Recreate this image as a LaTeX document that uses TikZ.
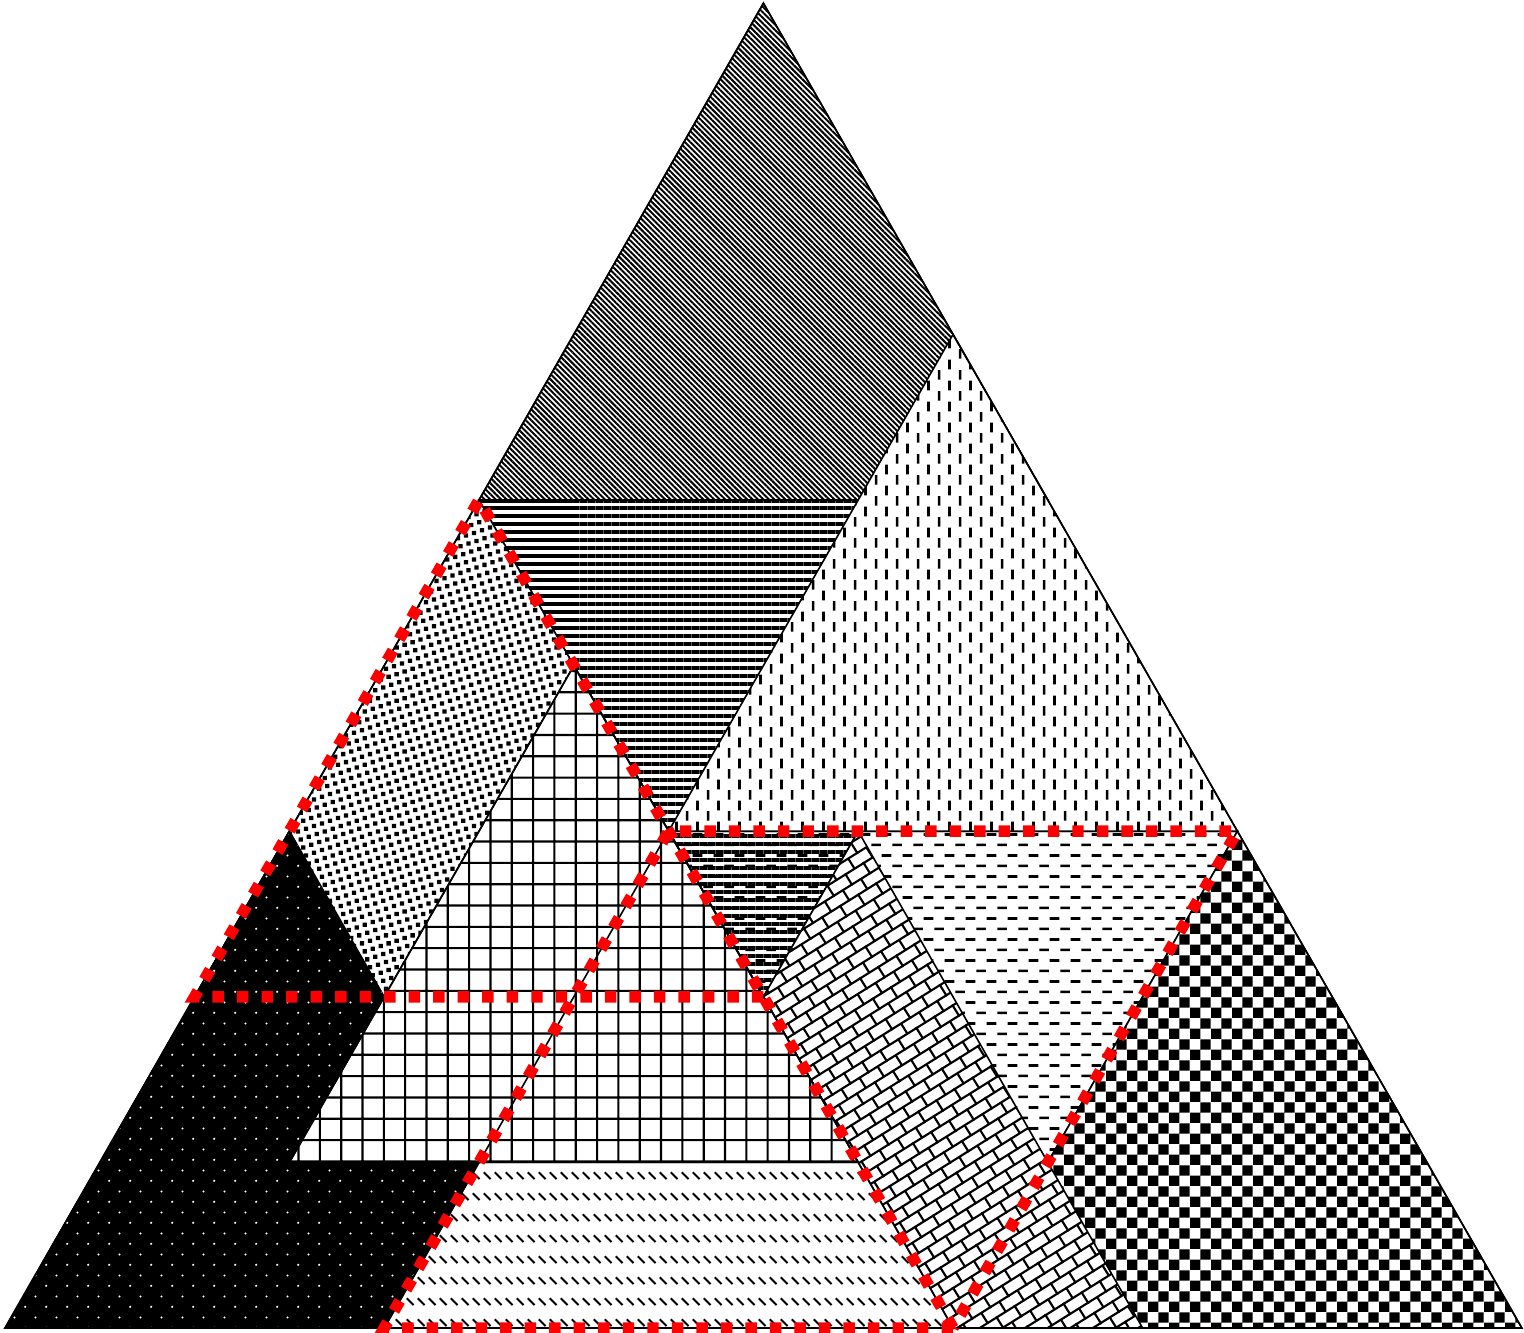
\documentclass[tikz,border=0pt]{standalone}
\usetikzlibrary{patterns,patterns.meta}

\pgfdeclarepatternformonly{vdashpat}{\pgfqpoint{0pt}{0pt}}{\pgfqpoint{8pt}{8pt}}{\pgfqpoint{8pt}{8pt}}{%
  \pgfpathrectangle{\pgfqpoint{1.5pt}{0.15pt}}{\pgfqpoint{1pt}{3.7pt}}%
  \pgfpathrectangle{\pgfqpoint{5.5pt}{4.15pt}}{\pgfqpoint{1pt}{3.7pt}}%
  \pgfusepath{fill}}
\pgfdeclarepatternformonly{hdashpat}{\pgfqpoint{0pt}{0pt}}{\pgfqpoint{8pt}{8pt}}{\pgfqpoint{8pt}{8pt}}{%
  \pgfpathrectangle{\pgfqpoint{0.15pt}{1.5pt}}{\pgfqpoint{3.7pt}{1pt}}%
  \pgfpathrectangle{\pgfqpoint{4.15pt}{5.5pt}}{\pgfqpoint{3.7pt}{1pt}}%
  \pgfusepath{fill}}
\pgfdeclarepatternformonly{specklepat}{\pgfqpoint{0pt}{0pt}}{\pgfqpoint{10.6pt}{10.6pt}}{\pgfqpoint{10pt}{10pt}}{%
  \pgfpathrectangle{\pgfqpoint{0pt}{0pt}}{\pgfqpoint{1.6pt}{1.6pt}}%
  \pgfpathrectangle{\pgfqpoint{3pt}{1pt}}{\pgfqpoint{1.6pt}{1.6pt}}%
  \pgfpathrectangle{\pgfqpoint{6pt}{2pt}}{\pgfqpoint{1.6pt}{1.6pt}}%
  \pgfpathrectangle{\pgfqpoint{9pt}{3pt}}{\pgfqpoint{1.6pt}{1.6pt}}%
  \pgfpathrectangle{\pgfqpoint{2pt}{4pt}}{\pgfqpoint{1.6pt}{1.6pt}}%
  \pgfpathrectangle{\pgfqpoint{5pt}{5pt}}{\pgfqpoint{1.6pt}{1.6pt}}%
  \pgfpathrectangle{\pgfqpoint{8pt}{6pt}}{\pgfqpoint{1.6pt}{1.6pt}}%
  \pgfpathrectangle{\pgfqpoint{1pt}{7pt}}{\pgfqpoint{1.6pt}{1.6pt}}%
  \pgfpathrectangle{\pgfqpoint{4pt}{8pt}}{\pgfqpoint{1.6pt}{1.6pt}}%
  \pgfpathrectangle{\pgfqpoint{7pt}{9pt}}{\pgfqpoint{1.6pt}{1.6pt}}%
  \pgfusepath{fill}}
\pgfdeclarepatternformonly{wdotpat}{\pgfqpoint{0pt}{0pt}}{\pgfqpoint{8pt}{8pt}}{\pgfqpoint{8pt}{8pt}}{%
  \pgfpathcircle{\pgfqpoint{2pt}{2pt}}{0.45pt}%
  \pgfpathcircle{\pgfqpoint{6pt}{6pt}}{0.45pt}%
  \pgfusepath{fill}}
\pgfdeclarepatternformonly{hatchpat}{\pgfqpoint{0pt}{0pt}}{\pgfqpoint{4pt}{8pt}}{\pgfqpoint{4pt}{8pt}}{%
  \pgfsetlinewidth{0.8pt}%
  \pgfpathmoveto{\pgfqpoint{0.7pt}{5.3pt}}\pgfpathlineto{\pgfqpoint{3.3pt}{2.7pt}}%
  \pgfusepath{stroke}}
\pgfdeclarepatternformonly{checkpat}{\pgfqpoint{0pt}{0pt}}{\pgfqpoint{8pt}{8pt}}{\pgfqpoint{8pt}{8pt}}{%
  \pgfpathrectangle{\pgfqpoint{0pt}{0pt}}{\pgfqpoint{4pt}{4pt}}%
  \pgfpathrectangle{\pgfqpoint{4pt}{4pt}}{\pgfqpoint{4pt}{4pt}}%
  \pgfusepath{fill}}
\pgfdeclarepatternformonly{gridpat}{\pgfqpoint{-0.4pt}{-0.4pt}}{\pgfqpoint{8.4pt}{8.4pt}}{\pgfqpoint{8pt}{8pt}}{%
  \pgfpathrectangle{\pgfqpoint{-0.4pt}{-0.4pt}}{\pgfqpoint{0.8pt}{8.8pt}}%
  \pgfpathrectangle{\pgfqpoint{-0.4pt}{-0.4pt}}{\pgfqpoint{8.8pt}{0.8pt}}%
  \pgfusepath{fill}}
\pgfdeclarepattern{
  name=brickpat,
  type=uncolored,
  bottom left={\pgfpoint{-0.5pt}{-0.5pt}},
  top right={\pgfpoint{8.5pt}{9.5pt}},
  tile size={\pgfpoint{8pt}{9pt}},
  tile transformation={\pgftransformrotate{32}},
  code={
    \pgfsetlinewidth{0.8pt}
    \pgfpathmoveto{\pgfpoint{-0.4pt}{0pt}}\pgfpathlineto{\pgfpoint{8.4pt}{0pt}}
    \pgfpathmoveto{\pgfpoint{-0.4pt}{4.5pt}}\pgfpathlineto{\pgfpoint{8.4pt}{4.5pt}}
    \pgfpathmoveto{\pgfpoint{0pt}{0pt}}\pgfpathlineto{\pgfpoint{0pt}{4.5pt}}
    \pgfpathmoveto{\pgfpoint{4pt}{4.5pt}}\pgfpathlineto{\pgfpoint{4pt}{9pt}}
    \pgfusepath{stroke}
  }
}

\tikzset{
  edge/.style={draw=black, line width=0.6pt},
  redout/.style={draw=red, line width=4.3pt, dash pattern=on 4.3pt off 4.9pt},
}

\begin{document}
\begin{tikzpicture}[x=2.5cm, y=2.1835cm]
\useasboundingbox (-0.0264,-0.0242) rectangle (8.0116,8.0195);
% vertices
\coordinate (O) at (0,0);
\coordinate (E) at (8,0);
\coordinate (T) at (4,8);
\coordinate (p25) at (2.5,5);
\coordinate (p55) at (5.5,5);
\coordinate (p50) at (5,6);
\coordinate (q10) at (1,2);
\coordinate (q40) at (4,2);
\coordinate (r35) at (3.5,3);
\coordinate (r65) at (6.5,3);
\coordinate (r45) at (4.5,3);
\coordinate (r15) at (1.5,3);
\coordinate (b2) at (2,0);
\coordinate (b3) at (3,0);
\coordinate (b5) at (5,0);
\coordinate (b6) at (6,0);
\coordinate (g3) at (3,4);
\coordinate (g15) at (1.5,1);
\coordinate (g45) at (4.5,1);

% top: diagonal lines
\path[edge, pattern={Lines[angle=-45,distance=1.45pt,line width=0.75pt]}] (T) -- (p25) -- (p55) -- cycle;
% triangle C: horizontal dashes
\path[edge, pattern=hdashpat] (r35) -- (r65) -- (b5) -- cycle;
% horizontal stripes (downward)
\path[edge, pattern={Lines[angle=0,distance=3pt,line width=1.6pt]}] (p25) -- (p55) -- (q40) -- cycle;
% vertical dashes
\path[edge, fill=white] (p50) -- (r35) -- (r65) -- cycle;
\path[pattern=vdashpat] (p50) -- (r35) -- (r65) -- cycle;
% triangle A: speckles
\path[edge, fill=white] (p25) -- (q10) -- (q40) -- cycle;
\path[pattern=specklepat] (p25) -- (q10) -- (q40) -- cycle;
% black with white dots
\path[edge, fill=black] (r15) -- (O) -- (b3) -- cycle;
\path[pattern=wdotpat, pattern color=white] (r15) -- (O) -- (b3) -- cycle;
% checkerboard
\path[edge, fill=white] (r65) -- (b5) -- (E) -- cycle;
\path[pattern=checkpat] (r65) -- (b5) -- (E) -- cycle;
% bricks
\path[edge, fill=white] (r45) -- (b3) -- (b6) -- cycle;
\path[pattern=brickpat] (r45) -- (b3) -- (b6) -- cycle;
% triangle B: hatch dashes
\path[edge, fill=white] (r35) -- (b2) -- (b5) -- cycle;
\path[pattern=hatchpat] (r35) -- (b2) -- (b5) -- cycle;
% grid
\path[edge, fill=white] (g3) -- (g15) -- (g45) -- cycle;
\path[pattern=gridpat] (g3) -- (g15) -- (g45) -- cycle;
% outlines again
\draw[edge] (g3) -- (g15) -- (g45) -- cycle;
\draw[edge] (r35) -- (b2) -- (b5) -- cycle;
\draw[edge] (O) -- (E) -- (T) -- cycle;
% red dashed outlines (triangles A, B, C; shared edge drawn once)
\draw[redout] (q40) -- (q10) -- (p25) -- (b5);
\draw[redout] (b5) -- (b2) -- (r35) -- (r65) -- (b5);
\end{tikzpicture}
\end{document}
